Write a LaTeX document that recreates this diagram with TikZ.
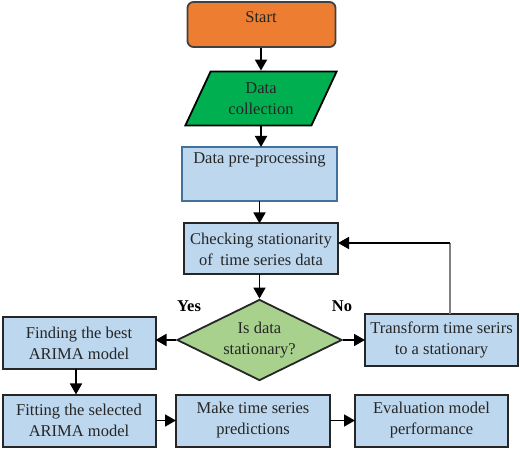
\documentclass[tikz,border=0pt]{standalone}
\usepackage{fontspec}
\setmainfont{Liberation Serif}
\usetikzlibrary{shapes.geometric,arrows.meta}
\definecolor{startor}{HTML}{ED7D31}
\definecolor{datagr}{HTML}{00B050}
\definecolor{boxbl}{HTML}{BDD7EE}
\definecolor{boxbd}{HTML}{41719C}
\definecolor{diagr}{HTML}{A9D18E}
\definecolor{fbgray}{HTML}{808080}
\tikzset{
  txt/.style={font=\fontsize{16.5}{21}\selectfont, align=center, text=black!85},
  bluebox/.style={txt, draw=black!85, line width=2pt, fill=boxbl, inner sep=0pt, outer sep=0pt},
  arr/.style={line width=1.8pt, -{Triangle[length=11pt,width=12pt]}},
  lbl/.style={font=\fontsize{16.5}{21}\selectfont\bfseries}
}
\begin{document}
\begin{tikzpicture}[x=1pt,y=-1pt]
\useasboundingbox (0,0) rectangle (520,449);
% nodes
\node[txt, draw=black!75, line width=1.8pt, fill=startor, rounded corners=6pt,
      minimum width=148pt, minimum height=45pt, inner sep=0pt, anchor=center,
      text depth=0pt] (start) at (261.5,24.5) {};
\node[txt] at (261,17) {Start};
\node[txt, draw=black, line width=1.8pt, fill=datagr, trapezium, trapezium left angle=63,
      trapezium right angle=117, trapezium stretches=true,
      minimum width=152pt, minimum height=54pt, inner sep=0pt] (data) at (261,98.5) {Data\\collection};
\node[bluebox, draw=boxbd, minimum width=155pt, minimum height=54pt] (pre) at (259.5,174) {};
\node[txt] at (259.5,160) {Data pre-processing};
\node[bluebox, minimum width=154pt, minimum height=51pt] (check) at (261,249) {Checking stationarity\\of\hspace{0.2em} time series data};
\node[txt, draw=black!85, line width=1.8pt, fill=diagr, diamond, shape aspect=2.04,
      minimum width=165pt, minimum height=81pt, inner sep=0pt] (dia) at (259.5,340) {Is data\\stationary?};
\node[bluebox, minimum width=153pt, minimum height=52pt] (find) at (79,343) {Finding the best\\ARIMA model};
\node[bluebox, minimum width=153pt, minimum height=52pt] (trans) at (441.5,340) {Transform time serirs\\to a stationary};
\node[bluebox, minimum width=153pt, minimum height=52pt] (fit) at (79,420.5) {Fitting the selected\\ARIMA model};
\node[bluebox, minimum width=154pt, minimum height=52pt] (make) at (253,420.5) {Make time series\\predictions};
\node[bluebox, minimum width=153pt, minimum height=52pt] (eval) at (431.5,420.5) {Evaluation model\\performance};
\node[lbl] (yes) at (189,306) {Yes};
\node[lbl] (no) at (342,306) {No};
% connectors
\draw[arr] (start.south -| data.north) -- (data.north);
\draw[arr] (data.south) -- (data.south |- pre.north);
\draw[arr] (pre.south) -- (pre.south |- check.north);
\draw[arr] (check.south -| dia.north) -- (dia.north);
\draw[arr] (dia.west) -- (find.east |- dia.west);
\draw[arr] (dia.east) -- (trans.west |- dia.east);
\coordinate (fb) at (450,243);
\draw[fbgray, line width=1.2pt] (trans.north -| fb) -- (fb);
\draw[arr] (fb) -- (check.east |- fb);
\draw[arr] (find.south -| 76,0) -- (fit.north -| 76,0);
\draw[arr] (fit.east) -- (make.west);
\draw[arr] (make.east) -- (eval.west);
\end{tikzpicture}
\end{document}
